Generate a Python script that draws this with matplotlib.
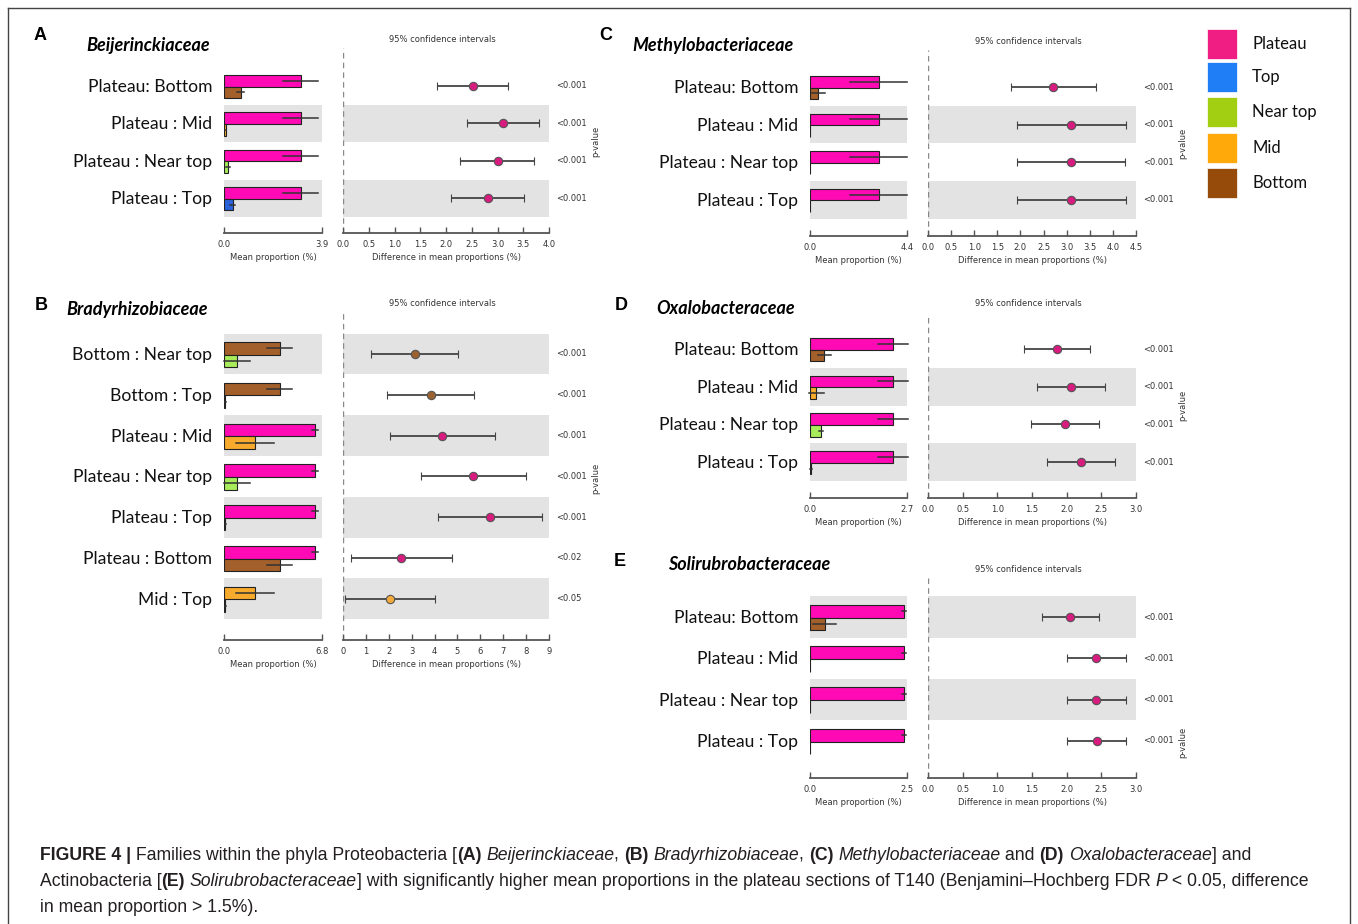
import matplotlib
matplotlib.use("Agg")
import matplotlib.pyplot as plt
import matplotlib.transforms as mtransforms
from matplotlib.lines import Line2D
from matplotlib.patches import Rectangle

W, H = 1358, 924
DPI = 100

# colours of the sections
bar_colors = {"Plateau": "#ff0ab4", "Top": "#2a62dc", "Near top": "#a8ec5c",
              "Mid": "#f7aa2c", "Bottom": "#a4602a"}
dot_colors = {"Plateau": "#d81b7e", "Top": "#2a62dc", "Near top": "#a8ec5c",
              "Mid": "#f2aa3c", "Bottom": "#9c6130"}
legend_names = ["Plateau", "Top", "Near top", "Mid", "Bottom"]
legend_colors = ["#f01e82", "#1f7ef5", "#a2cf12", "#ffaa0a", "#964b0a"]

# ---- panel A : Beijerinckiaceae
a_labels = ["Plateau: Bottom", "Plateau : Mid", "Plateau : Near top", "Plateau : Top"]
a_g1 = ["Plateau", "Plateau", "Plateau", "Plateau"]
a_g2 = ["Bottom", "Mid", "Near top", "Top"]
a_m1 = [3.06, 3.06, 3.06, 3.06]
a_s1 = [0.7, 0.7, 0.7, 0.7]
a_m2 = [0.66, 0.06, 0.15, 0.35]
a_s2 = [0.15, 0.03, 0.08, 0.1]
a_diff = [2.52, 3.10, 3.00, 2.82]
a_lo = [1.83, 2.40, 2.28, 2.10]
a_hi = [3.20, 3.80, 3.70, 3.52]
a_p = ["<0.001", "<0.001", "<0.001", "<0.001"]

# ---- panel B : Bradyrhizobiaceae
b_labels = ["Bottom : Near top", "Bottom : Top", "Plateau : Mid", "Plateau : Near top",
            "Plateau : Top", "Plateau : Bottom", "Mid : Top"]
b_g1 = ["Bottom", "Bottom", "Plateau", "Plateau", "Plateau", "Plateau", "Mid"]
b_g2 = ["Near top", "Top", "Mid", "Near top", "Top", "Bottom", "Top"]
b_m1 = [3.86, 3.86, 6.31, 6.31, 6.31, 6.31, 2.16]
b_s1 = [0.85, 0.85, 0.18, 0.18, 0.18, 0.18, 1.3]
b_m2 = [0.88, 0.1, 2.16, 0.88, 0.1, 3.86, 0.1]
b_s2 = [0.9, 0.05, 1.3, 0.9, 0.05, 0.85, 0.05]
b_diff = [3.14, 3.83, 4.34, 5.69, 6.41, 2.55, 2.05]
b_lo = [1.23, 1.94, 2.05, 3.41, 4.13, 0.34, 0.08]
b_hi = [5.03, 5.72, 6.62, 7.98, 8.69, 4.78, 4.02]
b_p = ["<0.001", "<0.001", "<0.001", "<0.001", "<0.001", "<0.02", "<0.05"]

# ---- panel C : Methylobacteriaceae
c_labels = ["Plateau: Bottom", "Plateau : Mid", "Plateau : Near top", "Plateau : Top"]
c_g1 = ["Plateau", "Plateau", "Plateau", "Plateau"]
c_g2 = ["Bottom", "Mid", "Near top", "Top"]
c_m1 = [3.12, 3.12, 3.12, 3.12]
c_s1 = [1.3, 1.3, 1.3, 1.3]
c_m2 = [0.37, 0.0, 0.0, 0.0]
c_s2 = [0.3, 0.0, 0.0, 0.0]
c_diff = [2.71, 3.10, 3.10, 3.10]
c_lo = [1.79, 1.92, 1.92, 1.92]
c_hi = [3.64, 4.28, 4.27, 4.28]
c_p = ["<0.001", "<0.001", "<0.001", "<0.001"]

# ---- panel D : Oxalobacteraceae
d_labels = ["Plateau: Bottom", "Plateau : Mid", "Plateau : Near top", "Plateau : Top"]
d_g1 = ["Plateau", "Plateau", "Plateau", "Plateau"]
d_g2 = ["Bottom", "Mid", "Near top", "Top"]
d_m1 = [2.30, 2.30, 2.30, 2.30]
d_s1 = [0.42, 0.42, 0.42, 0.42]
d_m2 = [0.40, 0.18, 0.31, 0.03]
d_s2 = [0.18, 0.2, 0.05, 0.02]
d_diff = [1.86, 2.06, 1.97, 2.21]
d_lo = [1.38, 1.57, 1.48, 1.72]
d_hi = [2.34, 2.55, 2.46, 2.70]
d_p = ["<0.001", "<0.001", "<0.001", "<0.001"]

# ---- panel E : Solirubrobacteraceae
e_labels = ["Plateau: Bottom", "Plateau : Mid", "Plateau : Near top", "Plateau : Top"]
e_g1 = ["Plateau", "Plateau", "Plateau", "Plateau"]
e_g2 = ["Bottom", "Mid", "Near top", "Top"]
e_m1 = [2.42, 2.42, 2.42, 2.42]
e_s1 = [0.05, 0.05, 0.05, 0.05]
e_m2 = [0.38, 0.0, 0.0, 0.0]
e_s2 = [0.3, 0.0, 0.0, 0.0]
e_diff = [2.05, 2.43, 2.43, 2.44]
e_lo = [1.65, 2.01, 2.01, 2.01]
e_hi = [2.47, 2.86, 2.86, 2.86]
e_p = ["<0.001", "<0.001", "<0.001", "<0.001"]

LABEL_FONT = ["Lato", "DejaVu Sans"]
SMALL_FONT = ["DejaVu Sans"]
CAP_FONT = ["Liberation Sans", "DejaVu Sans"]

fig = plt.figure(figsize=(W / DPI, H / DPI), dpi=DPI)
fig.patch.set_facecolor("white")


def fx(x):
    return x / W


def fy(y):
    return 1 - y / H


def px_axes(x0, y0, x1, y1):
    return fig.add_axes([fx(x0), fy(y1), (x1 - x0) / W, (y1 - y0) / H])


def style_bottom(ax):
    for s in ["top", "left", "right"]:
        ax.spines[s].set_visible(False)
    ax.spines["bottom"].set_color("#555555")
    ax.spines["bottom"].set_linewidth(1.3)
    ax.tick_params(axis="x", direction="in", length=4, width=1, color="#555555",
                   labelsize=6, labelcolor="#333333", pad=5)
    ax.set_yticks([])
    ax.set_facecolor("none")


def panel(letter, title, labels, g1, g2, m1, s1, m2, s2, diff, lo, hi, pv,
          bar_max, diff_max, diff_ticks, shaded, col, top, bottom, row0, pitch,
          letter_xy, title_xy, ci_y, pval_lab_y):
    if col == 0:
        bx0, bx1, dx0, dx1 = 224, 322, 343, 549
    else:
        bx0, bx1, dx0, dx1 = 810, 907, 928, 1136
    n = len(labels)
    ylim = ((bottom - row0) / pitch, (top - row0) / pitch)

    axb = px_axes(bx0, top, bx1, bottom)
    axd = px_axes(dx0, top, dx1, bottom)
    for ax in (axb, axd):
        style_bottom(ax)
        ax.set_ylim(*ylim)
        for i in shaded:
            ax.axhspan(i - 0.5, i + 0.5, color="#e3e3e3", zorder=0, lw=0)

    # mean proportion bars
    for i in range(n):
        axb.barh(i - 0.14, m1[i], height=0.31, color=bar_colors[g1[i]],
                 edgecolor="#222222", linewidth=0.8, zorder=2)
        axb.barh(i + 0.17, m2[i], height=0.31, color=bar_colors[g2[i]],
                 edgecolor="#222222", linewidth=0.8, zorder=2)
        axb.plot([m1[i] - s1[i], m1[i] + s1[i]], [i - 0.14, i - 0.14],
                 color="#333333", lw=1.1, zorder=3, clip_on=False)
        if s2[i] > 0:
            axb.plot([m2[i] - s2[i], m2[i] + s2[i]], [i + 0.17, i + 0.17],
                     color="#333333", lw=1.1, zorder=3, clip_on=False)
    axb.set_xlim(0, bar_max)
    axb.set_xticks([0, bar_max])
    axb.set_xticklabels(["0.0", "%.1f" % bar_max])
    axb.set_xlabel("Mean proportion (%)", fontsize=6, color="#333333", labelpad=3)

    # confidence intervals
    for i in range(n):
        axd.errorbar(diff[i], i, xerr=[[diff[i] - lo[i]], [hi[i] - diff[i]]],
                     fmt="o", ms=6, mfc=dot_colors[g1[i]], mec="#555555", mew=0.8,
                     ecolor="#444444", elinewidth=1.3, capsize=3, capthick=1.1,
                     zorder=3, clip_on=False)
    axd.axvline(0, color="#888888", lw=1, ls=(0, (4, 3)), zorder=1)
    axd.set_xlim(0, diff_max)
    axd.set_xticks(diff_ticks)
    if diff_max >= 9:
        axd.set_xticklabels(["%d" % t for t in diff_ticks])
    else:
        axd.set_xticklabels(["%.1f" % t for t in diff_ticks])
    axd.set_xlabel("Difference in mean proportions (%)", fontsize=6, color="#333333",
                   labelpad=3)

    trans = mtransforms.blended_transform_factory(axd.transAxes, axd.transData)
    for i in range(n):
        axd.text(1 + 7 / (dx1 - dx0), i, pv[i], transform=trans, fontsize=6,
                 color="#333333", va="center", ha="left", family=SMALL_FONT)
        fig.text(fx(bx0 - 12), fy(row0 + i * pitch + 1), labels[i], fontsize=12.6,
                 ha="right", va="center", color="#111111", family=LABEL_FONT)

    fig.text(fx(dx1 + 47), fy(pval_lab_y), "p-value", rotation=90, fontsize=6,
             color="#333333", ha="center", va="center", family=SMALL_FONT)
    fig.text(fx((dx0 + dx1) / 2 - 4), fy(ci_y), "95% confidence intervals", fontsize=6,
             color="#333333", ha="center", va="center", family=SMALL_FONT)
    fig.text(fx(letter_xy[0]), fy(letter_xy[1]), letter, fontsize=13, fontweight="bold",
             ha="center", va="center", family=["Liberation Sans", "DejaVu Sans"])
    fig.text(fx(title_xy[0]), fy(title_xy[1]), title, fontsize=13, fontweight="bold",
             fontstyle="italic", ha="left", va="center", family=LABEL_FONT)


panel("A", "Beijerinckiaceae", a_labels, a_g1, a_g2, a_m1, a_s1, a_m2, a_s2,
      a_diff, a_lo, a_hi, a_p, 3.9, 4.0, [0, 0.5, 1, 1.5, 2, 2.5, 3, 3.5, 4.0], [1, 3],
      0, 48, 233, 86, 37.4, (40, 36), (86, 45), 39, 141)
panel("B", "Bradyrhizobiaceae", b_labels, b_g1, b_g2, b_m1, b_s1, b_m2, b_s2,
      b_diff, b_lo, b_hi, b_p, 6.8, 9, list(range(10)), [0, 2, 4, 6],
      0, 312, 640, 354, 40.8, (41, 306), (66, 309), 304, 478)
panel("C", "Methylobacteriaceae", c_labels, c_g1, c_g2, c_m1, c_s1, c_m2, c_s2,
      c_diff, c_lo, c_hi, c_p, 4.4, 4.5, [0, 0.5, 1, 1.5, 2, 2.5, 3, 3.5, 4, 4.5], [1, 3],
      1, 50, 236, 87, 37.6, (606, 36), (632, 46), 42, 143)
panel("D", "Oxalobacteraceae", d_labels, d_g1, d_g2, d_m1, d_s1, d_m2, d_s2,
      d_diff, d_lo, d_hi, d_p, 2.7, 3.0, [0, 0.5, 1, 1.5, 2, 2.5, 3], [1, 3],
      1, 316, 498, 349, 37.7, (621, 306), (656, 309), 304, 405)
panel("E", "Solirubrobacteraceae", e_labels, e_g1, e_g2, e_m1, e_s1, e_m2, e_s2,
      e_diff, e_lo, e_hi, e_p, 2.5, 3.0, [0, 0.5, 1, 1.5, 2, 2.5, 3], [0, 2],
      1, 577, 778, 617, 41.3, (620, 562), (668, 565), 569, 742)

# legend boxes on the right
for k, (name, c) in enumerate(zip(legend_names, legend_colors)):
    yc = [44, 77, 112, 148, 183][k]
    fig.patches.append(Rectangle((fx(1207), fy(yc + 14.5)), 30 / W, 29 / H,
                                 transform=fig.transFigure, facecolor=c,
                                 edgecolor="white", lw=0.5))
    fig.text(fx(1252), fy(yc), name, fontsize=12, ha="left", va="center",
             color="#111111", family=LABEL_FONT)

# outer frame
for seg in [((8, 8), (1350, 8)), ((8, 8), (8, 930)), ((1350, 8), (1350, 930))]:
    (x0, y0), (x1, y1) = seg
    fig.add_artist(Line2D([fx(x0), fx(x1)], [fy(y0), fy(y1)], color="#444444", lw=1))

# caption, drawn piece by piece
cap_lines = [
    [("FIGURE 4 |", "b"), (" Families within the phyla Proteobacteria [", "r"), ("(A)", "b"),
     (" ", "r"), ("Beijerinckiaceae", "i"), (", ", "r"), ("(B)", "b"), (" ", "r"),
     ("Bradyrhizobiaceae", "i"), (", ", "r"), ("(C)", "b"), (" ", "r"),
     ("Methylobacteriaceae", "i"), (" and ", "r"), ("(D)", "b"), (" ", "r"),
     ("Oxalobacteraceae", "i"), ("] and", "r")],
    [("Actinobacteria [", "r"), ("(E)", "b"), (" ", "r"), ("Solirubrobacteraceae", "i"),
     ("] with significantly higher mean proportions in the plateau sections of T140 "
      "(Benjamini\u2013Hochberg FDR ", "r"), ("P", "i"), (" < 0.05, difference", "r")],
    [("in mean proportion > 1.5%).", "r")],
]
cap_y = [855, 881, 907]
renderer = fig.canvas.get_renderer()
for line, yy in zip(cap_lines, cap_y):
    x = 40
    for txt, st in line:
        t = fig.text(fx(x), fy(yy), txt, fontsize=12.7, ha="left", va="center",
                     color="#231f20", family=CAP_FONT,
                     fontweight="bold" if st == "b" else "normal",
                     fontstyle="italic" if st == "i" else "normal")
        x += t.get_window_extent(renderer).width

fig.savefig("out.png", dpi=DPI, facecolor="white")
